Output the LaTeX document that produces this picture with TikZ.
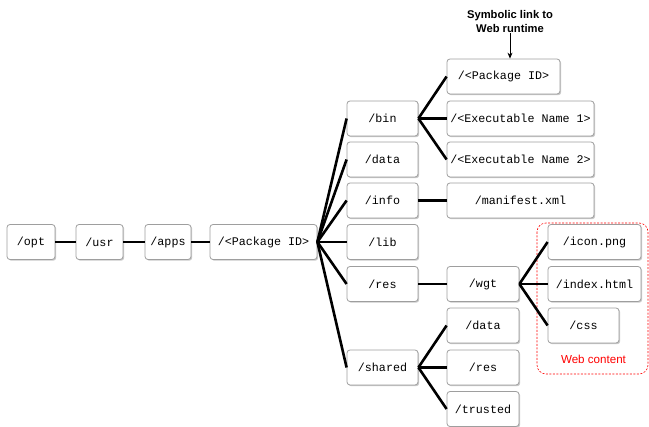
\documentclass[tikz,border=0pt]{standalone}
\usepackage{fontspec}
\setmainfont{Liberation Sans}
\newfontfamily\monof{Liberation Mono}
\usetikzlibrary{shadows,arrows.meta}
\begin{document}
\begin{tikzpicture}[x=1pt,y=-1pt,
  box/.style={draw=black!38, fill=white, rounded corners=3pt, line width=0.8pt,
    minimum height=35pt, inner sep=0pt, font=\monof\fontsize{11.7}{13}\selectfont,
    drop shadow={shadow xshift=1.2pt, shadow yshift=-1.2pt, opacity=0.35, fill=black!60}},
  conn/.style={line width=2.6pt, line cap=butt},
  hdrtxt/.style={font=\bfseries\fontsize{11.2}{14}\selectfont, align=center, inner sep=0pt},
  webbox/.style={draw=red, dashed, dash pattern=on 2pt off 1.5pt, rounded corners=9pt, line width=0.6pt}
]
\useasboundingbox (0,0) rectangle (649,427);
% column 1
\node[box, minimum width=48pt] (opt) at (31,242) {/opt};
\node[box, minimum width=47pt] (usr) at (99.5,242) {/usr};
\node[box, minimum width=46pt] (apps) at (168,242) {/apps};
\node[box, minimum width=107pt] (pkg) at (263.5,242) {/<Package ID>};
% column 2
\node[box, minimum width=71pt] (bin) at (382.5,118.5) {/bin};
\node[box, minimum width=71pt] (data) at (382.5,159.5) {/data};
\node[box, minimum width=71pt] (info) at (382.5,200.5) {/info};
\node[box, minimum width=71pt] (lib) at (382.5,242) {/lib};
\node[box, minimum width=71pt] (res) at (382.5,284) {/res};
\node[box, minimum width=71pt] (shared) at (382.5,367.5) {/shared};
% column 3
\node[box, minimum width=113pt] (pkgid) at (503.5,76.5) {/<Package ID>};
\node[box, minimum width=147pt] (exeA) at (520.5,118.5) {/<Executable Name 1>};
\node[box, minimum width=147pt] (exeB) at (520.5,159.5) {/<Executable Name 2>};
\node[box, minimum width=147pt] (manifest) at (520.5,200.5) {/manifest.xml};
\node[box, minimum width=72pt] (wgt) at (483,284) {/wgt};
\node[box, minimum width=72pt] (sdata) at (483,325.5) {/data};
\node[box, minimum width=72pt] (sres) at (483,367.5) {/res};
\node[box, minimum width=72pt] (strusted) at (483,409) {/trusted};
% column 4
\node[box, minimum width=93pt] (icon) at (594.5,242) {/icon.png};
\node[box, minimum width=93pt] (index) at (594.5,284) {/index.html};
\node[box, minimum width=71pt] (css) at (583.5,325.5) {/css};
% web content frame
\draw[webbox] (537,223) rectangle (648,374);
\node[text=red, font=\fontsize{11.6}{13}\selectfont, inner sep=0pt] (webtxt) at (593.5,359) {Web content};
% header
\node[hdrtxt] (hdr) at (510,22) {Symbolic link to\\Web runtime};
\draw[line width=0.8pt, -{Stealth[length=6pt,width=5pt]}] (hdr.south) -- (hdr.south |- pkgid.north);
% connectors
\draw[conn] (opt.east) -- (usr.west);
\draw[conn] (usr.east) -- (apps.west);
\draw[conn] (apps.east) -- (pkg.west);
\foreach \c in {bin,data,info,lib,res,shared}
  \draw[conn] (pkg.east) -- (\c.west);
\foreach \c in {pkgid,exeA,exeB}
  \draw[conn] (bin.east) -- (\c.west);
\draw[conn] (info.east) -- (manifest.west);
\draw[conn] (res.east) -- (wgt.west);
\foreach \c in {icon,index,css}
  \draw[conn] (wgt.east) -- (\c.west);
\foreach \c in {sdata,sres,strusted}
  \draw[conn] (shared.east) -- (\c.west);
\end{tikzpicture}
\end{document}
